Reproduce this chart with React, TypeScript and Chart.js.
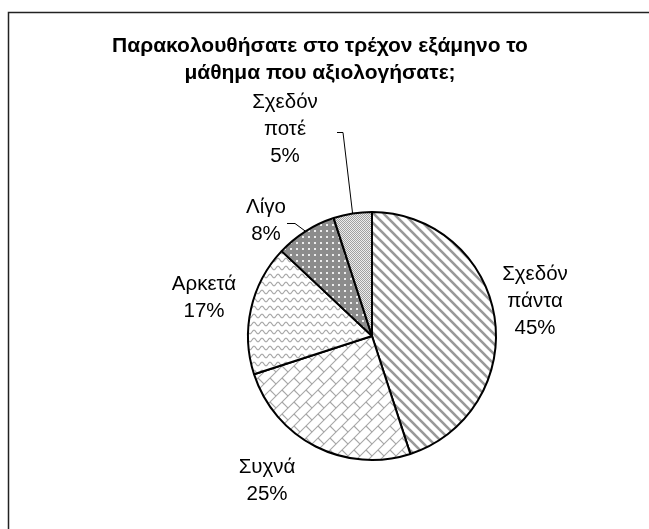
import React, { useEffect, useRef } from "react";
import { Chart, registerables } from "chart.js";

Chart.register(...registerables);

const categories = ["Σχεδόν πάντα", "Συχνά", "Αρκετά", "Λίγο", "Σχεδόν ποτέ"];
const values = [45, 25, 17, 8, 5];
const labelLines = [
  ["Σχεδόν", "πάντα", "45%"],
  ["Συχνά", "25%"],
  ["Αρκετά", "17%"],
  ["Λίγο", "8%"],
  ["Σχεδόν", "ποτέ", "5%"],
];
const titleLines = ["Παρακολουθήσατε στο τρέχον εξάμηνο το", "μάθημα που αξιολογήσατε;"];

// label centre (first line) offsets relative to pie centre
const labelOffsets = [
  { dx: 163, dy: -62 },
  { dx: -105, dy: 131 },
  { dx: -168, dy: -52 },
  { dx: -106, dy: -129 },
  { dx: -87, dy: -234 },
];
// leader lines: elbow relative to pie centre, and horizontal tail length
const leaders: ({ ex: number; ey: number; tail: number } | null)[] = [
  null,
  null,
  null,
  { ex: -77, ey: -113, tail: 8 },
  { ex: -29, ey: -204, tail: 6 },
];

function makePattern(size: number, draw: (c: CanvasRenderingContext2D) => void): CanvasPattern {
  const cv = document.createElement("canvas");
  cv.width = size;
  cv.height = size;
  const c = cv.getContext("2d")!;
  draw(c);
  return c.createPattern(cv, "repeat")!;
}

function buildPatterns() {
  const P = 10;
  const stripes = makePattern(P, (c) => {
    c.fillStyle = "#fff";
    c.fillRect(0, 0, P, P);
    c.strokeStyle = "#999";
    c.lineWidth = 2.6;
    for (const x0 of [-P, 0, P]) {
      c.beginPath();
      c.moveTo(x0 - 1, -1);
      c.lineTo(x0 + P + 1, P + 1);
      c.stroke();
    }
  });
  const S = 12;
  const brick = makePattern(S, (c) => {
    c.fillStyle = "#fff";
    c.fillRect(0, 0, S, S);
    c.strokeStyle = "#a6a6a6";
    c.lineWidth = 1.1;
    for (const ox of [-S, 0, S]) {
      for (const oy of [-S, 0, S]) {
        c.beginPath();
        c.moveTo(ox + S, oy);
        c.lineTo(ox, oy + S);
        c.stroke();
        c.beginPath();
        c.moveTo(ox + S / 2, oy + S / 2);
        c.lineTo(ox + S, oy + S);
        c.stroke();
      }
    }
  });
  const wave = makePattern(8, (c) => {
    c.fillStyle = "#fff";
    c.fillRect(0, 0, 8, 8);
    c.strokeStyle = "#a6a6a6";
    c.lineWidth = 1.1;
    c.beginPath();
    for (let x = -1; x <= 9; x += 0.5) {
      const y = 4 + 1.8 * Math.sin((2 * Math.PI * x) / 8);
      if (x === -1) c.moveTo(x, y);
      else c.lineTo(x, y);
    }
    c.stroke();
  });
  const dots = makePattern(6, (c) => {
    c.fillStyle = "#8c8c8c";
    c.fillRect(0, 0, 6, 6);
    c.fillStyle = "#eeeeee";
    c.fillRect(2, 2, 2, 2);
  });
  const checker = makePattern(2, (c) => {
    c.fillStyle = "#ececec";
    c.fillRect(0, 0, 2, 2);
    c.fillStyle = "#a0a0a0";
    c.fillRect(0, 0, 1, 1);
    c.fillRect(1, 1, 1, 1);
  });
  return [stripes, brick, wave, dots, checker];
}

const decorPlugin = {
  id: "decor",
  afterDraw(chart: any) {
    const ctx: CanvasRenderingContext2D = chart.ctx;
    const meta = chart.getDatasetMeta(0);
    const first = meta.data[0];
    if (!first) return;
    const cx = first.x;
    const cy = first.y;
    ctx.save();
    // frame
    ctx.strokeStyle = "#222";
    ctx.lineWidth = 1.5;
    ctx.beginPath();
    ctx.moveTo(8.5, chart.height);
    ctx.lineTo(8.5, 12.5);
    ctx.lineTo(chart.width, 12.5);
    ctx.stroke();
    // title
    ctx.fillStyle = "#000";
    ctx.textAlign = "center";
    ctx.textBaseline = "middle";
    ctx.font = "bold 21px 'Liberation Sans', Arial, sans-serif";
    titleLines.forEach((t, i) => ctx.fillText(t, 320, 46 + i * 27));
    // labels
    ctx.font = "20.5px 'Liberation Sans', Arial, sans-serif";
    meta.data.forEach((arc: any, i: number) => {
      const off = labelOffsets[i];
      labelLines[i].forEach((t, j) => ctx.fillText(t, cx + off.dx, cy + off.dy + j * 27));
      const ld = leaders[i];
      if (ld) {
        const mid = (arc.startAngle + arc.endAngle) / 2;
        const px = cx + Math.cos(mid) * arc.outerRadius;
        const py = cy + Math.sin(mid) * arc.outerRadius;
        ctx.strokeStyle = "#000";
        ctx.lineWidth = 1;
        ctx.beginPath();
        ctx.moveTo(cx + ld.ex - ld.tail, cy + ld.ey + 0.5);
        ctx.lineTo(cx + ld.ex, cy + ld.ey + 0.5);
        ctx.lineTo(px, py);
        ctx.stroke();
      }
    });
    ctx.restore();
  },
};

export default function App() {
  const ref = useRef<HTMLCanvasElement>(null);
  useEffect(() => {
    const canvas = ref.current!;
    const chart = new Chart(canvas, {
      type: "pie",
      data: {
        labels: categories,
        datasets: [
          {
            data: values,
            backgroundColor: buildPatterns() as any,
            borderColor: "#000",
            borderWidth: 2,
          },
        ],
      },
      options: {
        responsive: false,
        animation: false,
        layout: { padding: { left: 247, right: 152, top: 211, bottom: 68 } },
        plugins: {
          legend: { display: false },
          tooltip: { enabled: false },
          title: { display: false },
        },
      },
      plugins: [decorPlugin],
    });
    return () => chart.destroy();
  }, []);
  return (
    <canvas
      ref={ref}
      width={649}
      height={529}
      style={{ position: "fixed", left: 0, top: 0, width: 649, height: 529, background: "#fff" }}
    />
  );
}
